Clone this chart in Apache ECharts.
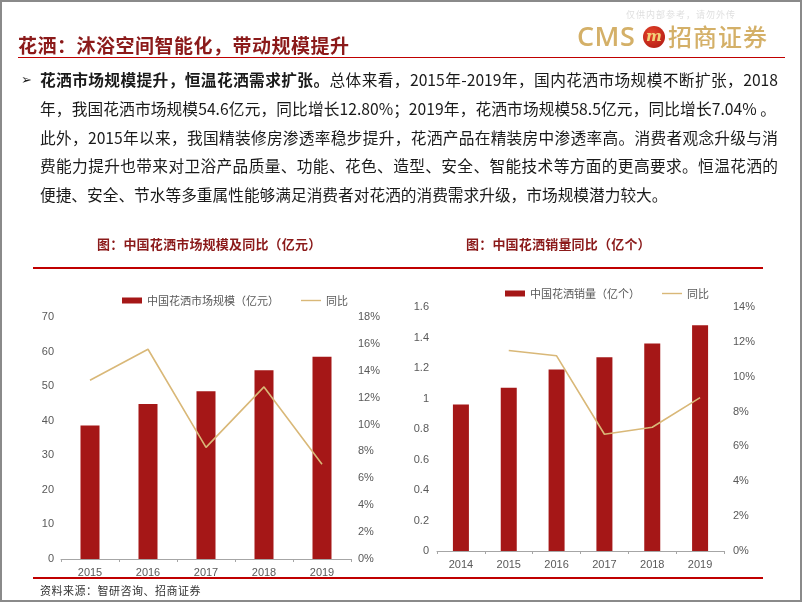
<!DOCTYPE html>
<html>
<head>
<meta charset="utf-8">
<script src="https://cdn.jsdelivr.net/npm/echarts@6/dist/echarts.min.js"></script>
<style>
  html, body { margin:0; padding:0; background:#fff; }
  #page { position:relative; width:802px; height:602px; overflow:hidden; background:#fff; font-family:"Noto Sans CJK SC", sans-serif; }
  #chart { position:absolute; left:0; top:0; width:802px; height:602px; }
  .abs { position:absolute; white-space:nowrap; }
  .para { position:absolute; left:40px; font-size:15.7px; line-height:20px; color:#1a1a1a; white-space:nowrap; }
  .just { text-align:justify; text-align-last:justify; }
  .rule { position:absolute; background:#C00000; }
  .ctitle { position:absolute; font-size:13px; font-weight:bold; color:#8B1A1A; letter-spacing:0.2px; white-space:nowrap; }
</style>
</head>
<body>
<div id="page">
  <div id="chart"></div>
  <!-- frame -->
  <div class="abs" style="left:0;top:0;width:798px;height:598px;border:2px solid #8a8a8a;pointer-events:none;"></div>

  <!-- watermark -->
  <div class="abs" style="left:626px;top:8px;font-size:9px;color:#e0e0e0;letter-spacing:1px;">仅供内部参考，请勿外传</div>
  <!-- logo -->
  <div class="abs" style="left:577px;top:21px;font-family:'Open Sans',sans-serif;font-weight:600;font-size:27px;line-height:30px;color:#D4B068;letter-spacing:0.5px;">CMS</div>
  <div class="abs" style="left:643px;top:26px;width:22px;height:22px;border-radius:50%;background:radial-gradient(circle at 40% 35%, #e8452c, #a8140e);color:#F2D27A;font-family:'DejaVu Serif',serif;font-style:italic;font-weight:bold;font-size:15px;line-height:21px;text-align:center;">m</div>
  <div class="abs" style="left:668px;top:20px;font-family:'Noto Sans CJK SC',sans-serif;font-weight:500;font-size:24px;line-height:32px;color:#D4B068;letter-spacing:1px;">招商证券</div>

  <!-- header -->
  <div class="abs" style="left:18px;top:32px;font-size:19px;line-height:26px;font-weight:bold;color:#8B1A1A;letter-spacing:0.5px;">花洒：沐浴空间智能化，带动规模提升</div>
  <div class="rule" style="left:18px;top:56.5px;width:767px;height:1.5px;"></div>

  <!-- paragraph -->
  <div class="abs" style="left:21px;top:70px;font-family:'DejaVu Sans',sans-serif;font-size:13px;line-height:20px;color:#1a1a1a;">➢</div>
  <div class="para just" style="top:70px;width:738px;"><b>花洒市场规模提升，恒温花洒需求扩张。</b>总体来看，2015年-2019年，国内花洒市场规模不断扩张，2018</div>
  <div class="para just" style="top:99px;width:736px;">年，我国花洒市场规模54.6亿元，同比增长12.80%；2019年，花洒市场规模58.5亿元，同比增长7.04% 。</div>
  <div class="para just" style="top:128px;width:738px;">此外，2015年以来，我国精装修房渗透率稳步提升，花洒产品在精装房中渗透率高。消费者观念升级与消</div>
  <div class="para just" style="top:156px;width:738px;">费能力提升也带来对卫浴产品质量、功能、花色、造型、安全、智能技术等方面的更高要求。恒温花洒的</div>
  <div class="para" style="top:185px;">便捷、安全、节水等多重属性能够满足消费者对花洒的消费需求升级，市场规模潜力较大。</div>

  <!-- chart titles -->
  <div class="ctitle" style="left:97px;top:234px;">图：中国花洒市场规模及同比（亿元）</div>
  <div class="ctitle" style="left:466px;top:234px;">图：中国花洒销量同比（亿个）</div>
  <div class="rule" style="left:33px;top:267px;width:730px;height:1.5px;"></div>

  <!-- bottom -->
  <div class="rule" style="left:33px;top:577px;width:730px;height:1.5px;"></div>
  <div class="abs" style="left:40px;top:582px;font-size:11px;line-height:16px;color:#333;letter-spacing:0.5px;">资料来源：智研咨询、招商证券</div>
</div>

<script>
// ---- data ----
const years1 = ['2015', '2016', '2017', '2018', '2019'];
const marketSize = [38.6, 44.8, 48.5, 54.6, 58.5];
const marketYoY = [0.133, 0.156, 0.083, 0.128, 0.0704];
const marketSizeName = '中国花洒市场规模（亿元）';

const years2 = ['2014', '2015', '2016', '2017', '2018', '2019'];
const salesVolume = [0.96, 1.07, 1.19, 1.27, 1.36, 1.48];
const salesYoY = [null, 0.115, 0.112, 0.067, 0.071, 0.088];
const salesName = '中国花洒销量（亿个）';
const yoyName = '同比';

// ---- styles ----
const BAR = '#A51717';
const LINE = '#D9B878';
const LABEL = '#595959';
const FONT = 'Liberation Sans, Arial, sans-serif';
const LINE_ICON = 'path://M0,0H20V1.4H0Z';

const chart = echarts.init(document.getElementById('chart'));
const pct = v => Math.round(v * 100) + '%';

function xAx(idx, data) {
  return {
    type: 'category', gridIndex: idx, data: data,
    axisLine: { lineStyle: { color: '#A6A6A6', width: 1 } },
    axisTick: { show: true, length: 3, lineStyle: { color: '#A6A6A6' } },
    axisLabel: { color: LABEL, fontSize: 11, fontFamily: FONT, margin: 8 }
  };
}
function yAx(idx, pos, min, max, interval, fmt, margin) {
  return {
    type: 'value', gridIndex: idx, position: pos, min: min, max: max, interval: interval,
    splitLine: { show: false }, axisLine: { show: false }, axisTick: { show: false },
    axisLabel: { color: LABEL, fontSize: 11, fontFamily: FONT, margin: margin, formatter: fmt }
  };
}
const legendText = { color: LABEL, fontSize: 11, fontFamily: 'Noto Sans CJK SC, sans-serif' };

chart.setOption({
  animation: false,
  legend: [
    { left: 117, top: 290, itemWidth: 20, itemHeight: 6, itemGap: 22, textStyle: legendText, symbolKeepAspect: true,
      data: [{ name: marketSizeName, icon: 'rect' }, { name: yoyName, icon: LINE_ICON }] },
    { left: 500, top: 283, itemWidth: 20, itemHeight: 6, itemGap: 22, textStyle: legendText, symbolKeepAspect: true,
      data: [{ name: salesName, icon: 'rect' }, { name: yoyName, icon: LINE_ICON }] }
  ],
  grid: [
    { left: 61, top: 317, width: 290, height: 242 },
    { left: 437, top: 307, width: 287, height: 244 }
  ],
  xAxis: [xAx(0, years1), xAx(1, years2)],
  yAxis: [
    yAx(0, 'left', 0, 70, 10, null, 7),
    yAx(0, 'right', 0, 0.18, 0.02, pct, 7),
    yAx(1, 'left', 0, 1.6, 0.2, v => String(Math.round(v * 10) / 10), 8),
    yAx(1, 'right', 0, 0.14, 0.02, pct, 9)
  ],
  series: [
    { name: marketSizeName, type: 'bar', xAxisIndex: 0, yAxisIndex: 0, data: marketSize,
      barWidth: 19, itemStyle: { color: BAR } },
    { name: yoyName, type: 'line', xAxisIndex: 0, yAxisIndex: 1, data: marketYoY,
      symbol: 'none', lineStyle: { color: LINE, width: 1.6 }, itemStyle: { color: LINE } },
    { name: salesName, type: 'bar', xAxisIndex: 1, yAxisIndex: 2, data: salesVolume,
      barWidth: 16, itemStyle: { color: BAR } },
    { name: yoyName, type: 'line', xAxisIndex: 1, yAxisIndex: 3, data: salesYoY,
      symbol: 'none', lineStyle: { color: LINE, width: 1.6 }, itemStyle: { color: LINE } }
  ]
});
</script>
</body>
</html>
